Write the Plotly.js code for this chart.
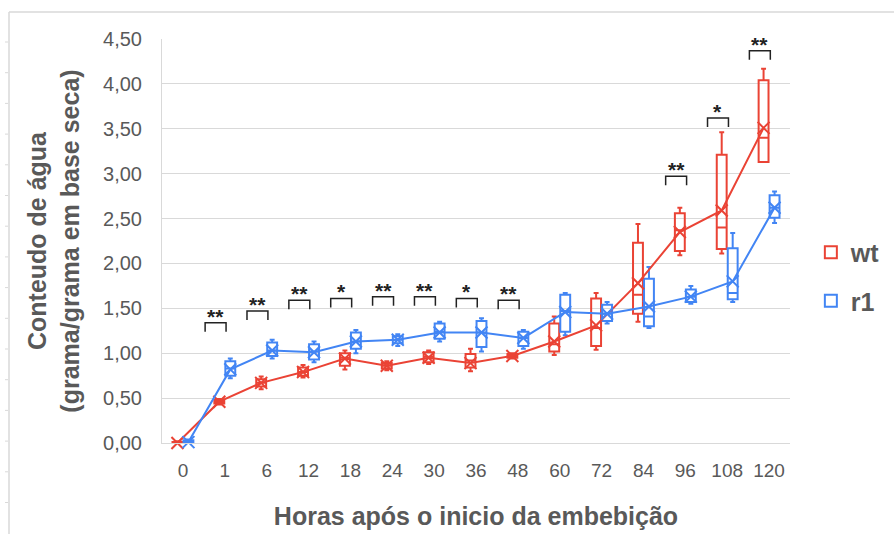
<!DOCTYPE html>
<html><head><meta charset="utf-8">
<script src="https://cdn.plot.ly/plotly-3.0.1.min.js"></script>
<style>html,body{margin:0;padding:0;background:#fff}#chart{width:894px;height:534px}</style>
</head><body><div id="chart"></div>
<script>
// categories (hours)
const hours = ['0','1','6','12','18','24','30','36','48','60','72','84','96','108','120'];

// wt series (box statistics + mean)
const wtLower  = [0.00,0.43,0.60,0.73,0.82,0.81,0.88,0.80,0.94,0.98,1.04,1.35,2.09,2.11,3.13];
const wtQ1     = [0.00,0.44,0.63,0.75,0.86,0.83,0.90,0.84,0.95,1.02,1.08,1.44,2.14,2.16,3.13];
const wtMedian = [0.00,0.46,0.67,0.79,0.95,0.86,0.96,0.92,0.97,1.10,1.28,1.65,2.37,2.40,3.40];
const wtQ3     = [0.01,0.48,0.71,0.84,1.00,0.89,1.01,0.99,0.99,1.33,1.61,2.23,2.56,3.21,4.04];
const wtUpper  = [0.02,0.49,0.74,0.87,1.03,0.91,1.03,1.05,1.00,1.41,1.67,2.44,2.62,3.46,4.17];
const wtMean   = [0.00,0.46,0.67,0.79,0.94,0.86,0.95,0.89,0.97,1.13,1.31,1.78,2.35,2.59,3.51];

// r1 series (box statistics + mean)
const r1Lower  = [0.00,0.72,0.94,0.90,1.00,1.08,1.13,1.02,1.05,1.20,1.33,1.28,1.55,1.57,2.45];
const r1Q1     = [0.00,0.75,0.97,0.93,1.05,1.11,1.16,1.07,1.08,1.24,1.36,1.30,1.57,1.60,2.51];
const r1Median = [0.01,0.83,1.03,1.02,1.13,1.15,1.24,1.23,1.17,1.47,1.44,1.41,1.63,1.67,2.62];
const r1Q3     = [0.03,0.91,1.12,1.10,1.23,1.19,1.33,1.36,1.24,1.65,1.54,1.83,1.71,2.17,2.76];
const r1Upper  = [0.04,0.94,1.15,1.13,1.26,1.21,1.35,1.39,1.26,1.67,1.57,1.96,1.75,2.34,2.80];
const r1Mean   = [0.01,0.82,1.03,1.01,1.13,1.15,1.23,1.23,1.17,1.46,1.44,1.52,1.63,1.80,2.62];

// significance marks
const sigHours  = ['1','6','12','18','24','30','36','48','96','108','120'];
const sigLabels = ['**','**','**','*','**','**','*','**','**','*','**'];
const sigLevels = [1.34,1.47,1.59,1.61,1.63,1.63,1.61,1.59,2.97,3.62,4.37];

const RED = '#EA4335', BLUE = '#4285F4', TXT = '#595959', GRID = '#d9d9d9';
const FONT = 'Liberation Sans, Arial, sans-serif';

function boxTrace(name, color, group, lo, q1, med, q3, hi) {
  return {type:'box', name:name, x:hours, lowerfence:lo, q1:q1, median:med, q3:q3, upperfence:hi,
    offsetgroup:group, legendgroup:group, line:{color:color, width:2},
    fillcolor:'rgba(255,255,255,0)', whiskerwidth:0.5, boxpoints:false, hoverinfo:'skip'};
}
function meanTrace(color, group, y) {
  return {type:'scatter', mode:'lines+markers', x:hours, y:y, offsetgroup:group, legendgroup:group,
    line:{color:color, width:2}, marker:{symbol:'x-thin-open', size:12, color:color, line:{width:2, color:color}},
    showlegend:false, cliponaxis:false, hoverinfo:'skip'};
}

const data = [
  boxTrace('wt', RED, 'wt', wtLower, wtQ1, wtMedian, wtQ3, wtUpper),
  boxTrace('r1', BLUE, 'r1', r1Lower, r1Q1, r1Median, r1Q3, r1Upper),
  meanTrace(RED, 'wt', wtMean),
  meanTrace(BLUE, 'r1', r1Mean)
];

const shapes = [];
const annotations = [];
sigHours.forEach((h, i) => {
  const idx = hours.indexOf(h);
  const x0 = idx - 0.47, x1 = idx + 0.03, yt = sigLevels[i], yb = sigLevels[i] - 0.1;
  shapes.push({type:'path', xref:'x', yref:'y', path:`M ${x0},${yb} L ${x0},${yt} L ${x1},${yt} L ${x1},${yb}`,
    line:{color:'#222', width:1.5}});
  annotations.push({xref:'x', yref:'y', x:(x0 + x1) / 2, y:yt, yanchor:'bottom', xanchor:'center', yshift:-7,
    text:sigLabels[i], showarrow:false, font:{family:FONT, size:21, color:'#222', weight:'bold'}});
});
// outer frame of the sheet
const px = v => (v - 162) / 628, py = v => (443 - v) / 404;
shapes.push({type:'line', xref:'paper', yref:'paper', x0:px(9), x1:px(894), y0:py(12), y1:py(12), line:{color:GRID, width:1.5}});
shapes.push({type:'line', xref:'paper', yref:'paper', x0:px(9), x1:px(9), y0:py(12), y1:py(534), line:{color:GRID, width:1.5}});
for (let k = 0; k < 16; k++) {
  const yy = 42 + k * 30.7;
  shapes.push({type:'line', xref:'paper', yref:'paper', x0:px(5), x1:px(8), y0:py(yy), y1:py(yy), line:{color:GRID, width:1}});
}

const layout = {
  width:894, height:534,
  margin:{l:162, r:104, t:39, b:91},
  paper_bgcolor:'#fff', plot_bgcolor:'#fff',
  separators:',.',
  boxmode:'group', boxgap:0.475, boxgroupgap:0.1,
  scattermode:'group', scattergap:0.475,
  xaxis:{type:'category', categoryorder:'array', categoryarray:hours, range:[-0.5,14.5],
    showgrid:false, showline:true, linecolor:GRID, linewidth:1, zeroline:false, ticks:'',
    ticklabelstandoff:10,
    tickfont:{family:FONT, size:19, color:TXT},
    title:{text:'Horas após o inicio da embebição', standoff:27, font:{family:FONT, size:25, color:TXT, weight:'bold'}}},
  yaxis:{range:[0,4.5], dtick:0.5, tick0:0, tickformat:'.2f', showgrid:true, gridcolor:GRID, gridwidth:1,
    showline:true, linecolor:GRID, linewidth:1, zeroline:false, ticks:'', ticklabelstandoff:15,
    tickfont:{family:FONT, size:20, color:TXT},
    title:{text:'Conteudo de água<br>(grama/grama em base seca)', standoff:16, font:{family:FONT, size:25, color:TXT, weight:'bold'}}},
  legend:{xref:'container', x:0.907, xanchor:'left', yref:'paper', y:0.412, yanchor:'middle', tracegroupgap:13,
    font:{family:FONT, size:25, color:TXT, weight:'bold'}, bgcolor:'rgba(0,0,0,0)'},
  shapes:shapes, annotations:annotations, hovermode:false
};

Plotly.newPlot('chart', data, layout, {displayModeBar:false, staticPlot:true});
</script></body></html>
